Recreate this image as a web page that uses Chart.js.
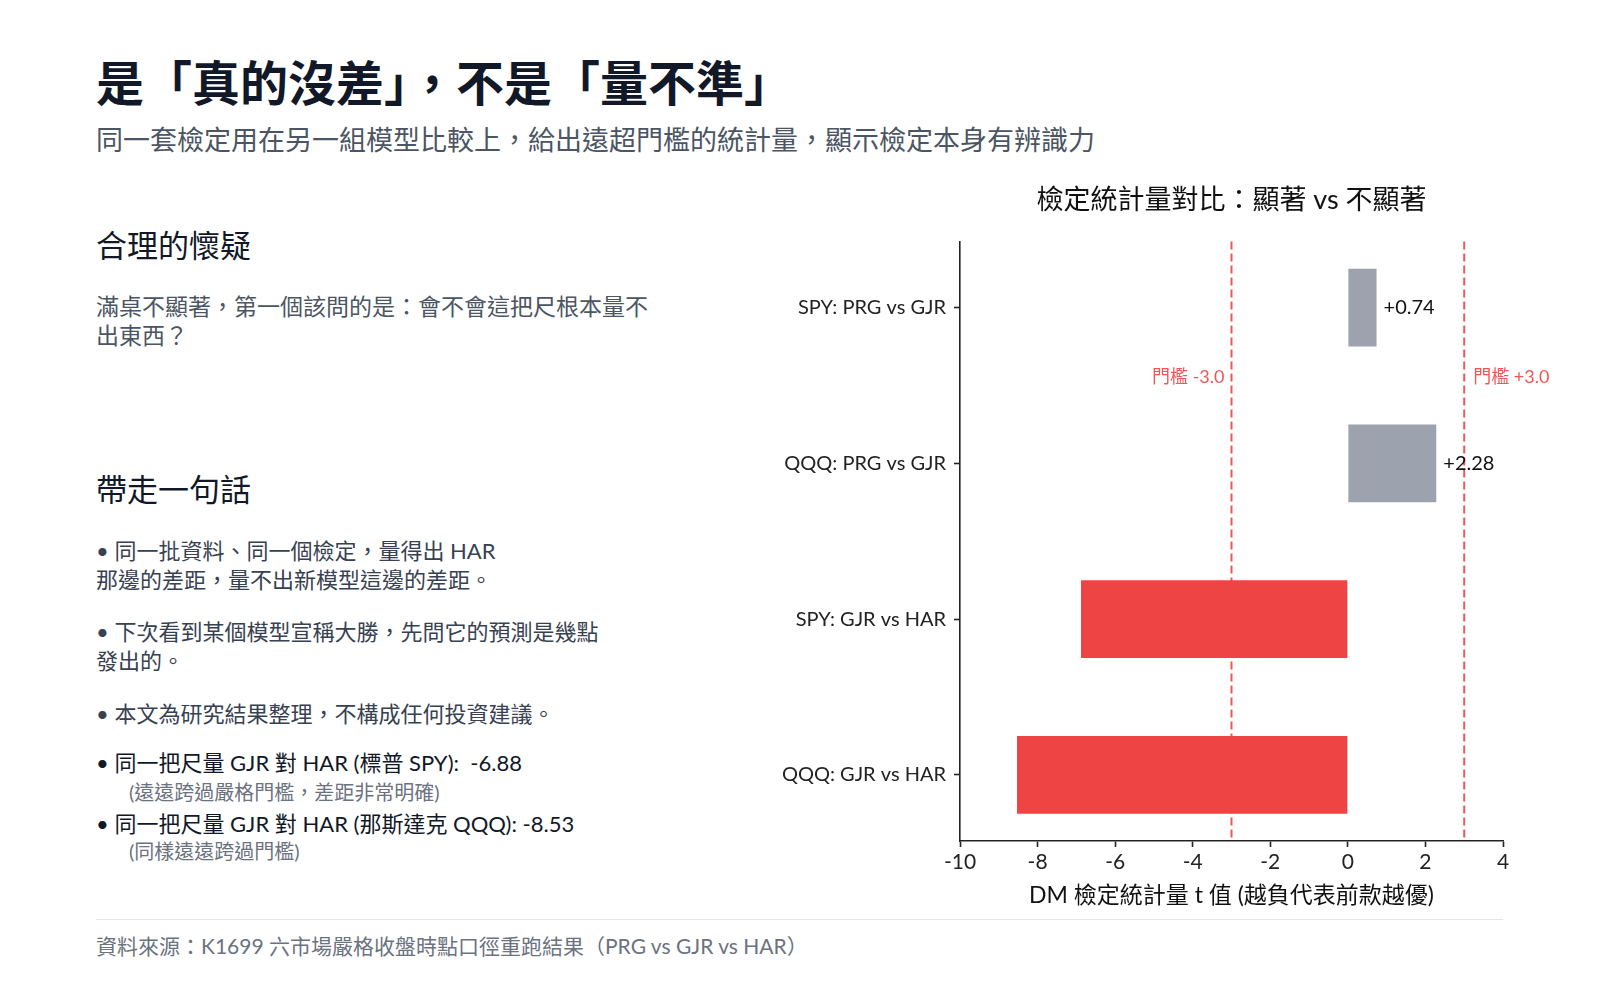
<!DOCTYPE html>
<html lang="zh-Hant">
<head>
<meta charset="utf-8">
<title>檢定統計量對比</title>
<script src="https://cdn.jsdelivr.net/npm/chart.js@4.4.1/dist/chart.umd.min.js"></script>
<style>
  html, body { margin: 0; padding: 0; background: #fff; }
  body {
    width: 1600px; height: 1000px; position: relative; overflow: hidden;
    font-family: "Lato", "Noto Sans CJK JP", sans-serif;
  }
  .t { position: absolute; left: 96px; white-space: nowrap; }
  #titulo { top: 55px; font-size: 48px; line-height: 56px; font-weight: 700; color: #111827; }
  #subtitulo { top: 123px; font-size: 27px; line-height: 34px; color: #4b5563; }
  .cabecera { font-size: 31px; line-height: 38px; font-weight: 400; color: #111827; }
  .parrafo { font-size: 23px; line-height: 29px; color: #4b5563; }
  .vineta { font-size: 22px; line-height: 29px; color: #374151; }
  .fuerte { color: #111827; }
  .nota { left: 129px; font-size: 20px; line-height: 26px; color: #6b7280; }
  #linea { position: absolute; left: 96px; top: 919px; width: 1407px; height: 1px; background: #e5e7eb; }
  #fuente { top: 932px; font-size: 21px; line-height: 28px; color: #6b7280; }
  #cajaGrafico { position: absolute; left: 700px; top: 160px; width: 880px; height: 760px; }
</style>
</head>
<body>
  <div class="t" id="titulo">是「真的沒差」，不是「量不準」</div>
  <div class="t" id="subtitulo">同一套檢定用在另一組模型比較上，給出遠超門檻的統計量，顯示檢定本身有辨識力</div>

  <div class="t cabecera" style="top:226px">合理的懷疑</div>
  <div class="t parrafo" style="top:292px">滿桌不顯著，第一個該問的是：會不會這把尺根本量不<br>出東西？</div>

  <div class="t cabecera" style="top:470px">帶走一句話</div>
  <div class="t vineta" style="top:536px">• 同一批資料、同一個檢定，量得出 HAR<br>那邊的差距，量不出新模型這邊的差距。</div>
  <div class="t vineta" style="top:617px">• 下次看到某個模型宣稱大勝，先問它的預測是幾點<br>發出的。</div>
  <div class="t vineta" style="top:699px">• 本文為研究結果整理，不構成任何投資建議。</div>
  <div class="t vineta fuerte" style="top:748px">• 同一把尺量 GJR 對 HAR (標普 SPY):&nbsp; -6.88</div>
  <div class="t nota" style="top:779px">(遠遠跨過嚴格門檻，差距非常明確)</div>
  <div class="t vineta fuerte" style="top:809px">• 同一把尺量 GJR 對 HAR (那斯達克 QQQ): -8.53</div>
  <div class="t nota" style="top:838px">(同樣遠遠跨過門檻)</div>

  <div id="cajaGrafico"><canvas id="grafDM"></canvas></div>

  <div id="linea"></div>
  <div class="t" id="fuente">資料來源：K1699 六市場嚴格收盤時點口徑重跑結果（PRG vs GJR vs HAR）</div>

<script>
// datos del grafico
const categorias = ["SPY: PRG vs GJR", "QQQ: PRG vs GJR", "SPY: GJR vs HAR", "QQQ: GJR vs HAR"];
const valoresDM = [0.74, 2.28, -6.88, -8.53];
const esSignificativo = [false, false, true, true];
const umbrales = [-3, 3];
const etiquetasUmbral = ["門檻 -3.0", "門檻 +3.0"];
const ticksX = [-10, -8, -6, -4, -2, 0, 2, 4];

const gris = "#9ca3af";
const rojo = "#ef4444";
const colorUmbral = "rgba(239, 68, 68, 0.9)";
const fuente = "Lato, 'Noto Sans CJK JP', sans-serif";

Chart.defaults.font.family = fuente;

//lineas de umbral punteadas (debajo de las barras)
const lineasUmbral = {
  id: "lineasUmbral",
  beforeDatasetsDraw(chart) {
    const { ctx, chartArea, scales } = chart;
    ctx.save();
    ctx.strokeStyle = colorUmbral;
    ctx.lineWidth = 2;
    ctx.setLineDash([8, 4]);
    umbrales.forEach((u) => {
      const px = scales.x.getPixelForValue(u);
      ctx.beginPath();
      ctx.moveTo(px, chartArea.top);
      ctx.lineTo(px, chartArea.bottom);
      ctx.stroke();
    });
    ctx.setLineDash([]);
    ctx.font = "18px " + fuente;
    ctx.fillStyle = colorUmbral;
    ctx.textBaseline = "middle";
    const py = scales.y.getPixelForValue(0.45);
    umbrales.forEach((u, i) => {
      const px = scales.x.getPixelForValue(u);
      ctx.textAlign = u < 0 ? "right" : "left";
      ctx.fillText(etiquetasUmbral[i], u < 0 ? px - 7 : px + 9, py);
    });
    ctx.restore();
  },
};

//etiquetas de valor solo para las barras positivas
const etiquetasValor = {
  id: "etiquetasValor",
  afterDatasetsDraw(chart) {
    const { ctx } = chart;
    const meta = chart.getDatasetMeta(0);
    ctx.save();
    ctx.font = "20px " + fuente;
    ctx.fillStyle = "#111";
    ctx.textAlign = "left";
    ctx.textBaseline = "middle";
    meta.data.forEach((bar, i) => {
      const v = valoresDM[i];
      if (v > 0) ctx.fillText("+" + v.toFixed(2), bar.x + 7, bar.y);
    });
    ctx.restore();
  },
};

const config = {
  type: "bar",
  data: {
    datasets: [
      {
        data: categorias.map((c, i) => ({ x: valoresDM[i], y: i })),
        backgroundColor: esSignificativo.map((s) => (s ? rojo : gris)),
        borderWidth: 0,
        categoryPercentage: 1,
        barPercentage: 0.5,
      },
    ],
  },
  options: {
    indexAxis: "y",
    animation: false,
    responsive: true,
    maintainAspectRatio: false,
    layout: { padding: { top: 20, right: 77, bottom: 7, left: 0 } },
    plugins: {
      legend: { display: false },
      tooltip: { enabled: false },
      title: {
        display: true,
        fullSize: false,
        text: "檢定統計量對比：顯著 vs 不顯著",
        color: "#111",
        font: { size: 27, weight: "normal" },
        padding: { top: 4, bottom: 25 },
      },
    },
    scales: {
      x: {
        type: "linear",
        min: -10,
        max: 4,
        afterBuildTicks: (s) => {
          s.ticks = ticksX.map((v) => ({ value: v }));
        },
        afterFit: (s) => {
          s.height = 72;
        },
        grid: { drawOnChartArea: false, drawTicks: true, tickLength: 6, tickColor: "#222", tickWidth: 1.6 },
        border: { color: "#222", width: 1.6 },
        ticks: { color: "#222", font: { size: 21 }, padding: 3 },
        title: {
          display: true,
          text: "DM 檢定統計量 t 值 (越負代表前款越優)",
          color: "#111",
          font: { size: 23 },
          padding: { top: 4, bottom: 4 },
        },
      },
      y: {
        type: "linear",
        min: -0.425,
        max: 3.425,
        reverse: true,
        offset: false,
        afterBuildTicks: (s) => {
          s.ticks = categorias.map((c, i) => ({ value: i }));
        },
        afterFit: (s) => {
          s.width = 260;
        },
        grid: { offset: false, drawOnChartArea: false, drawTicks: true, tickLength: 6, tickColor: "#222", tickWidth: 1.6 },
        border: { color: "#222", width: 1.6 },
        ticks: {
          autoSkip: false,
          color: "#222",
          font: { size: 20 },
          padding: 8,
          callback: (v) => categorias[v],
        },
      },
    },
  },
  plugins: [lineasUmbral, etiquetasValor],
};

const grafDM = new Chart(document.getElementById("grafDM"), config);
</script>
</body>
</html>
